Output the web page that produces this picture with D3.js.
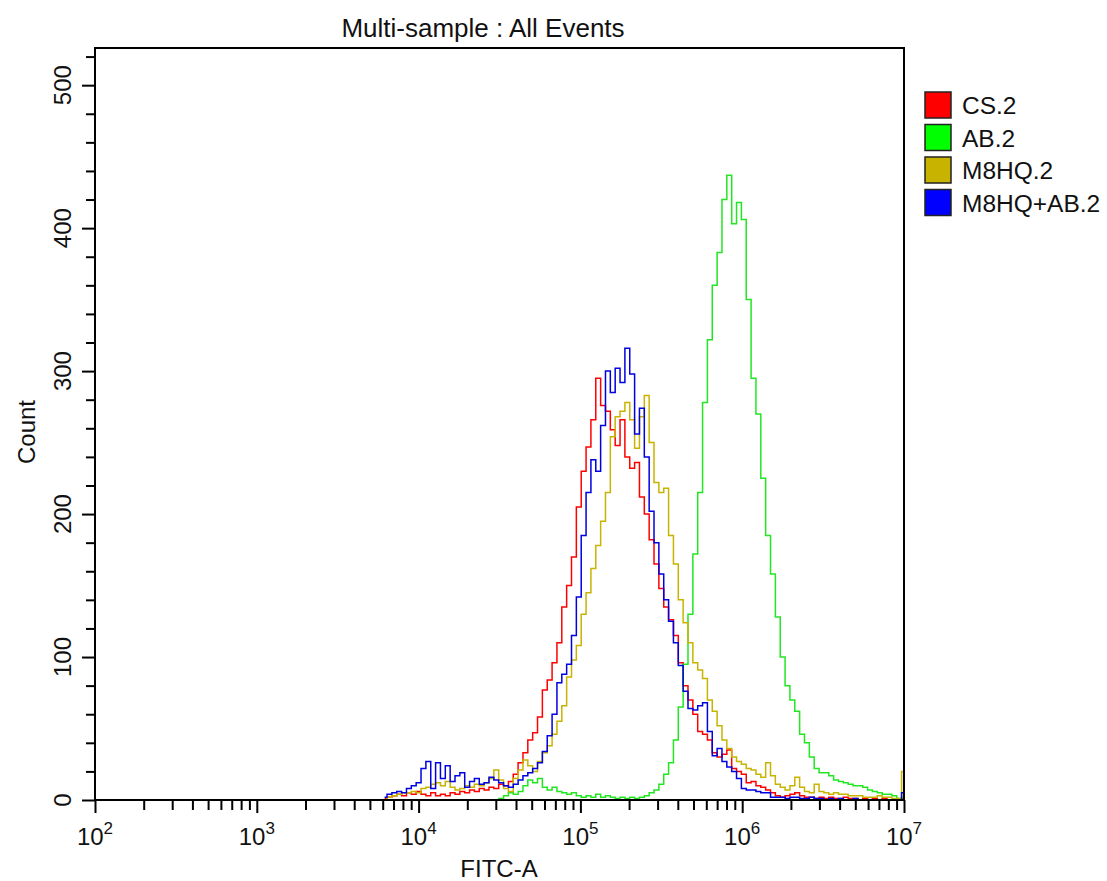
<!DOCTYPE html>
<html>
<head>
<meta charset="utf-8">
<script src="https://cdn.jsdelivr.net/npm/d3@7"></script>
<style>
  html, body { margin: 0; padding: 0; background: #fff; }
  svg { display: block; font-family: "Liberation Sans", Arial, sans-serif; }
</style>
</head>
<body>
<svg id="chart" width="1107" height="881"></svg>
<script>
// ---------------- data ----------------
const chartTitle = "Multi-sample : All Events";
const xLabel = "FITC-A";
const yLabel = "Count";

const seriesNames = ["CS.2", "AB.2", "M8HQ.2", "M8HQ+AB.2"];
const seriesColors = ["#ff0000", "#22e622", "#c8b400", "#0000e0"];
const legendColors = ["#ff0000", "#00ff00", "#c8b400", "#0000ff"];

// log10 of FITC-A bin centres
const fitcExp = [
 3.79,3.82,3.85,3.88,3.91,3.94,3.97,4.00,4.03,4.06,
 4.09,4.12,4.15,4.18,4.21,4.24,4.27,4.30,4.33,4.36,
 4.39,4.42,4.45,4.48,4.51,4.54,4.57,4.60,4.63,4.66,
 4.69,4.72,4.75,4.78,4.81,4.84,4.87,4.90,4.93,4.96,
 4.99,5.02,5.05,5.08,5.11,5.14,5.17,5.20,5.23,5.26,
 5.29,5.32,5.35,5.38,5.41,5.44,5.47,5.50,5.53,5.56,
 5.59,5.62,5.65,5.68,5.71,5.74,5.77,5.80,5.83,5.86,
 5.89,5.92,5.95,5.98,6.01,6.04,6.07,6.10,6.13,6.16,
 6.19,6.22,6.25,6.28,6.31,6.34,6.37,6.40,6.43,6.46,
 6.49,6.52,6.55,6.58,6.61,6.64,6.67,6.70,6.73,6.76,
 6.79,6.82,6.85,6.88,6.91,6.94,6.97,7.00];

const countsCS2 = [
 1,2,3,4,3,5,4,6,4,3,
 5,3,4,3,5,4,6,5,7,6,
 8,7,9,8,11,10,13,18,26,33,
 42,47,58,77,84,96,110,135,150,170,
 205,230,247,266,295,276,272,259,248,266,
 240,232,236,212,200,182,165,148,135,126,
 115,96,80,70,60,48,46,42,33,30,
 32,35,22,20,18,12,13,10,9,7,
 5,3,2,3,4,5,3,2,2,1,
 2,1,2,1,1,2,1,1,0,1,
 0,1,0,1,0,0,0,1];

const countsAB2 = [
 0,0,0,0,0,0,0,0,0,0,
 0,0,0,0,0,0,0,0,0,0,
 0,0,0,0,1,3,5,4,6,10,
 14,12,15,9,7,9,6,5,4,5,
 3,2,3,2,4,2,3,2,1,2,
 1,2,1,2,3,5,7,11,18,26,
 42,65,95,130,172,215,278,322,360,383,
 420,437,403,418,406,350,295,270,225,185,
 158,128,100,80,70,62,46,40,30,22,
 19,19,17,14,13,12,11,10,10,9,
 7,6,5,4,4,3,1,2];

const countsM8HQ2 = [
 0,2,3,4,5,5,6,5,8,9,
 11,12,10,13,9,7,8,10,9,11,
 10,12,15,21,14,8,6,15,21,28,
 24,20,27,33,38,46,55,66,86,98,
 108,130,145,162,178,195,215,254,268,272,
 278,266,246,268,283,250,222,215,218,185,
 165,140,124,110,96,91,85,70,62,52,
 42,36,30,27,25,22,21,18,16,26,
 17,11,9,7,10,16,9,6,5,11,
 6,5,4,5,4,4,3,3,3,2,
 2,2,3,2,2,1,1,20];

const countsM8HQAB2 = [
 2,4,5,6,5,8,10,12,22,27,
 8,26,15,24,13,17,19,9,13,15,
 11,12,16,14,12,10,9,11,14,17,
 19,22,26,34,45,60,82,88,95,115,
 142,185,215,238,230,262,300,285,302,292,
 316,298,256,274,240,202,180,158,140,125,
 110,94,76,64,63,66,68,48,31,36,
 27,23,20,15,8,7,7,6,5,5,
 2,2,2,1,2,2,1,1,2,1,
 1,0,1,0,1,0,0,1,0,0,
 0,0,0,0,0,0,0,5];

const xTickExponents = [2, 3, 4, 5, 6, 7];
const yMajorTicks = [0, 100, 200, 300, 400, 500];
const yMinorTicks = [20, 40, 60, 80, 120, 140, 160, 180, 220, 240, 260, 280,
                     320, 340, 360, 380, 420, 440, 460, 480, 520];
const xMinorMultipliers = [2, 3, 4, 5, 6, 7, 8, 9];

// ---------------- layout ----------------
const svg = d3.select("#chart");
const plot = { left: 95, right: 904, top: 48, bottom: 800 };

const x = d3.scaleLog().domain([1e2, 1e7]).range([plot.left, plot.right]);
const y = d3.scaleLinear().domain([0, 526]).range([plot.bottom, plot.top]);

svg.append("defs").append("clipPath").attr("id", "clip")
  .append("rect")
  .attr("x", plot.left).attr("y", plot.top)
  .attr("width", plot.right - plot.left).attr("height", plot.bottom - plot.top);

// ---------------- lines ----------------
const allCounts = [countsCS2, countsAB2, countsM8HQ2, countsM8HQAB2];
const line = d3.line()
  .x(d => x(Math.pow(10, d[0])))
  .y(d => y(d[1]))
  .curve(d3.curveStep);

const gLines = svg.append("g").attr("clip-path", "url(#clip)");
allCounts.forEach((counts, i) => {
  const pts = fitcExp.map((e, k) => [e, counts[k]]);
  gLines.append("path")
    .datum(pts)
    .attr("fill", "none")
    .attr("stroke", seriesColors[i])
    .attr("stroke-width", 1.5)
    .attr("d", line);
});

// ---------------- axes ----------------
const xMajors = xTickExponents.map(e => Math.pow(10, e));
const xMinors = [];
xTickExponents.slice(0, -1).forEach(e => xMinorMultipliers.forEach(m => xMinors.push(m * Math.pow(10, e))));

function styleAxis(g) {
  g.select(".domain").remove();
  g.selectAll(".tick line").attr("stroke", "#000").attr("stroke-width", 2);
}

svg.append("g")
  .attr("transform", `translate(0,${plot.bottom})`)
  .call(d3.axisBottom(x).tickValues(xMinors).tickSize(10).tickFormat(""))
  .call(styleAxis);
svg.append("g")
  .attr("transform", `translate(0,${plot.bottom})`)
  .call(d3.axisBottom(x).tickValues(xMajors).tickSize(13).tickFormat(""))
  .call(styleAxis);

svg.append("g")
  .attr("transform", `translate(${plot.left},0)`)
  .call(d3.axisLeft(y).tickValues(yMinorTicks).tickSize(9).tickFormat(""))
  .call(styleAxis);
svg.append("g")
  .attr("transform", `translate(${plot.left},0)`)
  .call(d3.axisLeft(y).tickValues(yMajorTicks).tickSize(13).tickFormat(""))
  .call(styleAxis);

// frame
svg.append("rect")
  .attr("x", plot.left).attr("y", plot.top)
  .attr("width", plot.right - plot.left).attr("height", plot.bottom - plot.top)
  .attr("fill", "none").attr("stroke", "#000").attr("stroke-width", 2);

// x tick labels 10^n
xTickExponents.forEach(e => {
  const t = svg.append("text")
    .attr("x", x(Math.pow(10, e)))
    .attr("y", 845)
    .attr("text-anchor", "middle")
    .attr("font-size", 24)
    .attr("fill", "#111");
  t.append("tspan").text("10");
  t.append("tspan").attr("dy", -11).attr("font-size", 17).text(String(e));
});

// y tick labels (rotated)
yMajorTicks.forEach(v => {
  svg.append("text")
    .attr("transform", `translate(71,${y(v)}) rotate(-90)`)
    .attr("text-anchor", "middle")
    .attr("font-size", 24)
    .attr("fill", "#111")
    .text(String(v));
});

// titles
svg.append("text")
  .attr("x", 483).attr("y", 37)
  .attr("text-anchor", "middle")
  .attr("font-size", 26)
  .attr("fill", "#111")
  .text(chartTitle);

svg.append("text")
  .attr("x", 499).attr("y", 877)
  .attr("text-anchor", "middle")
  .attr("font-size", 24)
  .attr("fill", "#111")
  .text(xLabel);

svg.append("text")
  .attr("transform", `translate(35,432) rotate(-90)`)
  .attr("text-anchor", "middle")
  .attr("font-size", 24)
  .attr("fill", "#111")
  .text(yLabel);

// legend
const legend = svg.append("g");
seriesNames.forEach((name, i) => {
  const top = 92 + i * 32.5;
  legend.append("rect")
    .attr("x", 925).attr("y", top)
    .attr("width", 26).attr("height", 26)
    .attr("fill", legendColors[i])
    .attr("stroke", "#222").attr("stroke-width", 1.5);
  legend.append("text")
    .attr("x", 962).attr("y", top + 22)
    .attr("font-size", 24.5)
    .attr("fill", "#111")
    .text(name);
});
</script>
</body>
</html>
